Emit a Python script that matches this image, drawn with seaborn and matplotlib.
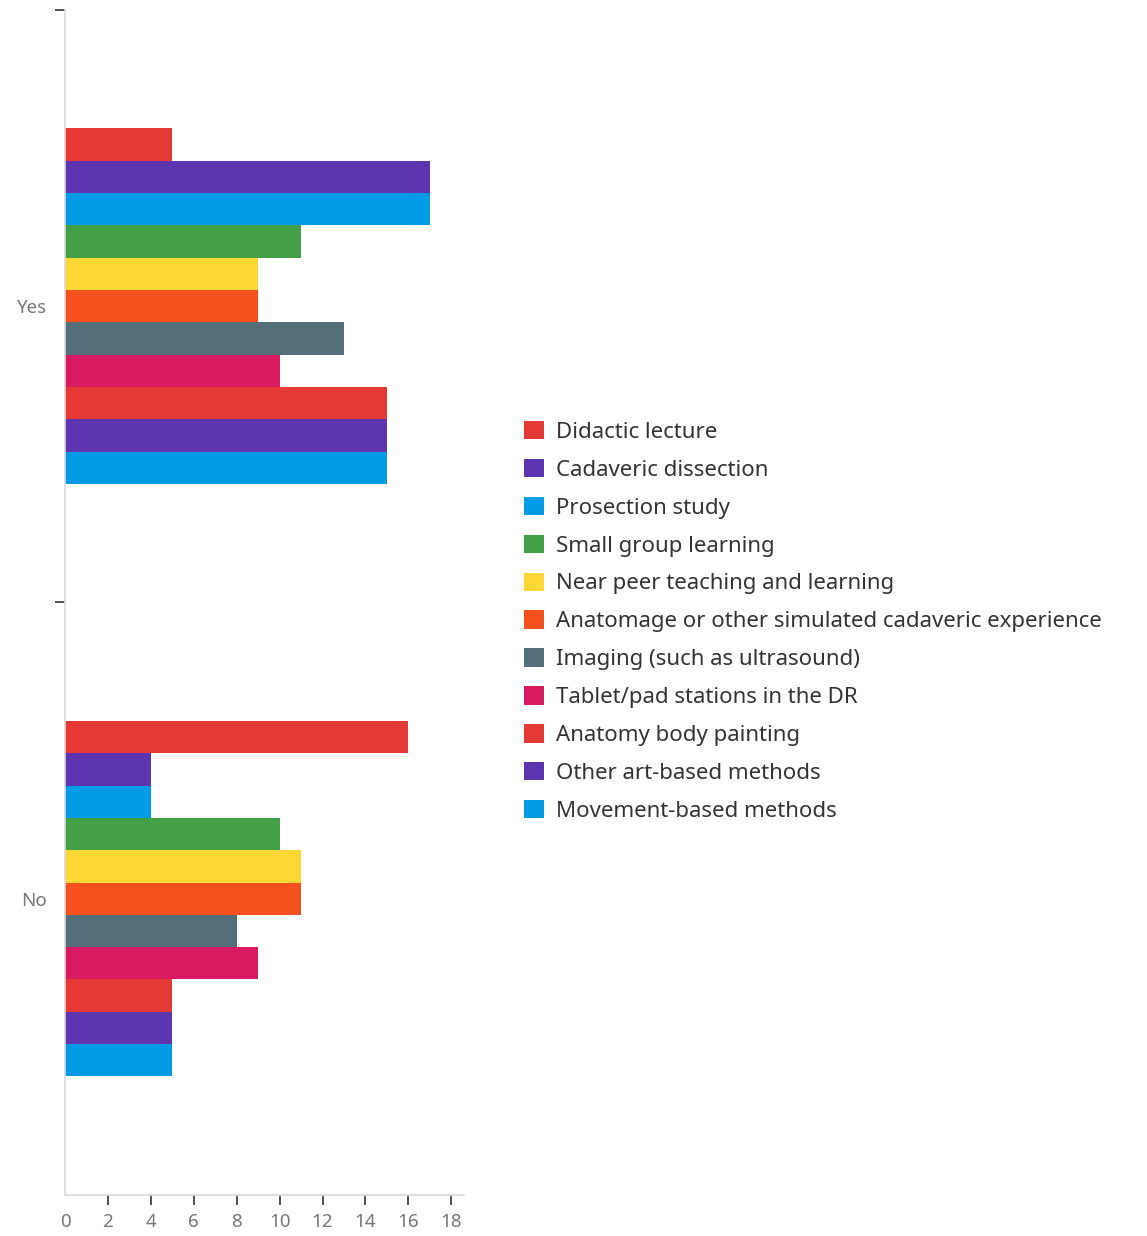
import pandas as pd
import seaborn as sns
import matplotlib.pyplot as plt

answers = ['Yes', 'No']
methods = ['Didactic lecture', 'Cadaveric dissection', 'Prosection study',
           'Small group learning', 'Near peer teaching and learning',
           'Anatomage or other simulated cadaveric experience',
           'Imaging (such as ultrasound)', 'Tablet/pad stations in the DR',
           'Anatomy body painting', 'Other art-based methods',
           'Movement-based methods']
yes_counts = [5, 17, 17, 11, 9, 9, 13, 10, 15, 15, 15]
no_counts = [16, 4, 4, 10, 11, 11, 8, 9, 5, 5, 5]
colors = ['#E53935', '#5E35B1', '#039BE5', '#43A047', '#FDD835', '#F4511E',
          '#546E7A', '#D81B60', '#E53935', '#5E35B1', '#039BE5']

rows = []
for m, y, n in zip(methods, yes_counts, no_counts):
    rows.append({'answer': 'Yes', 'method': m, 'count': y})
    rows.append({'answer': 'No', 'method': m, 'count': n})
df = pd.DataFrame(rows)

sns.set_style('white')
plt.rcParams['font.family'] = ['Noto Sans', 'DejaVu Sans']

fig = plt.figure(figsize=(11.47, 12.36), dpi=100)
ax = fig.add_axes([0.0567, 0.0332, 0.348, 0.9588])
sns.barplot(data=df, y='answer', x='count', hue='method', order=answers,
            hue_order=methods, palette=colors, orient='h', width=0.6,
            saturation=1, linewidth=0, ax=ax)

ax.set_xlim(0, 18.6)
ax.set_ylim(1.5, -0.5)
ax.set_xticks(range(0, 19, 2))
ax.set_yticks([0, 1])
ax.set_yticklabels(answers)
ax.set_yticks([-0.5, 0.5], minor=True)
ax.set_xlabel('')
ax.set_ylabel('')
for s in ['top', 'right']:
    ax.spines[s].set_visible(False)
for s in ['left', 'bottom']:
    ax.spines[s].set_color('#d9d9d9')
    ax.spines[s].set_linewidth(1.2)
ax.tick_params(axis='x', length=7, width=1.2, color='#333333', labelsize=13.5,
               labelcolor='#777777', pad=6, bottom=True)
ax.tick_params(axis='y', which='major', length=0, labelsize=13.5,
               labelcolor='#777777', pad=13)
ax.tick_params(axis='y', which='minor', length=7, width=1.2, color='#333333',
               left=True)
ax.xaxis.get_major_ticks()[0].tick1line.set_visible(False)

leg = ax.legend(loc='center left', bbox_to_anchor=(1.128, 0.484), frameon=False,
                fontsize=16, handlelength=0.9, handleheight=0.9,
                handletextpad=0.55, labelspacing=0.72, borderaxespad=0)
for t in leg.get_texts():
    t.set_color('#333333')

plt.savefig('out.png', dpi=100)
